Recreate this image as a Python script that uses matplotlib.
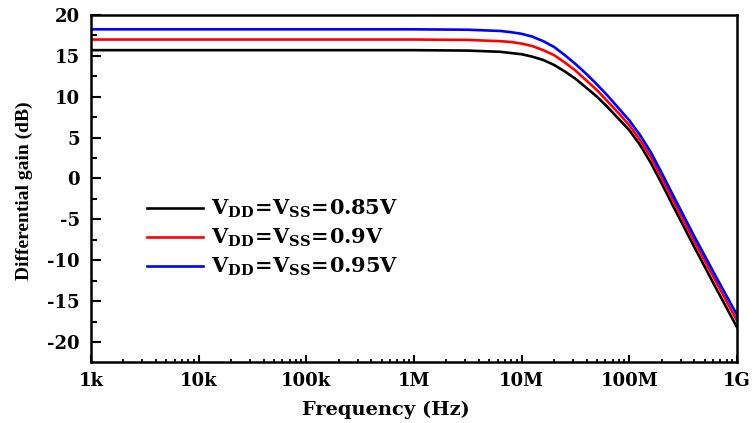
import numpy as np
import matplotlib
matplotlib.use("Agg")
import matplotlib.pyplot as plt
from matplotlib.ticker import FixedLocator, FixedFormatter, LogLocator, NullFormatter, MultipleLocator

plt.rcParams['mathtext.fontset'] = 'custom'
plt.rcParams['mathtext.bf'] = 'DejaVu Serif:bold'
plt.rcParams['mathtext.rm'] = 'DejaVu Serif:bold'
plt.rcParams['axes.unicode_minus'] = False

# log10(frequency) sample points
log_f = [3.0, 4.0, 5.0, 6.0, 6.5, 6.8, 6.9, 7.0, 7.1, 7.2, 7.3, 7.4, 7.5, 7.6,
         7.7, 7.8, 7.9, 8.0, 8.1, 8.2, 8.3, 8.4, 8.6, 8.8, 9.0]

gain_085 = [15.7, 15.7, 15.7, 15.7, 15.65, 15.5, 15.35, 15.2, 14.9, 14.5, 13.9, 13.1, 12.2, 11.1,
            10.0, 8.7, 7.3, 5.9, 4.1, 1.9, -0.6, -3.2, -8.3, -13.3, -18.2]
gain_090 = [17.0, 17.0, 17.0, 17.0, 16.95, 16.8, 16.7, 16.5, 16.2, 15.7, 15.1, 14.2, 13.2, 12.0,
            10.8, 9.4, 8.0, 6.5, 4.7, 2.6, 0.1, -2.5, -7.6, -12.5, -17.4]
gain_095 = [18.25, 18.25, 18.25, 18.25, 18.2, 18.05, 17.9, 17.7, 17.35, 16.8, 16.1, 15.1, 14.0, 12.8,
            11.5, 10.1, 8.6, 7.1, 5.3, 3.2, 0.7, -1.9, -7.0, -11.9, -16.7]

labels = [r'$\mathbf{V_{DD}\!=\!V_{SS}\!=\!0.85V}$',
          r'$\mathbf{V_{DD}\!=\!V_{SS}\!=\!0.9V}$',
          r'$\mathbf{V_{DD}\!=\!V_{SS}\!=\!0.95V}$']
colors = ['#000000', '#ff0000', '#0000ff']

freq_ticks = [1e3, 1e4, 1e5, 1e6, 1e7, 1e8, 1e9]
freq_labels = ['1k', '10k', '100k', '1M', '10M', '100M', '1G']

freq = 10 ** np.array(log_f)

fig = plt.figure(figsize=(7.54, 4.23), dpi=100)
ax = fig.add_axes([0.1207, 0.1442, 0.8568, 0.8203])

for g, lab, c in zip([gain_085, gain_090, gain_095], labels, colors):
    ax.plot(freq, g, color=c, lw=1.9, label=lab)

ax.set_xscale('log')
ax.set_xlim(1e3, 1e9)
ax.set_ylim(-22.45, 20)

tick_font = dict(family='DejaVu Serif', weight='bold', size=13)
ax.xaxis.set_major_locator(FixedLocator(freq_ticks))
ax.xaxis.set_major_formatter(FixedFormatter(freq_labels))
ax.xaxis.set_minor_locator(LogLocator(base=10, subs=np.arange(2, 10)))
ax.xaxis.set_minor_formatter(NullFormatter())
ax.yaxis.set_major_locator(MultipleLocator(5))
ax.yaxis.set_minor_locator(MultipleLocator(2.5))

ax.tick_params(axis='y', which='major', direction='in', length=7, width=1.5, pad=8)
ax.tick_params(axis='y', which='minor', direction='in', length=4, width=1.5)
ax.tick_params(axis='x', which='major', direction='in', length=5, width=1.5, pad=7)
ax.tick_params(axis='x', which='minor', direction='in', length=2.5, width=1.3)
for lab in ax.get_xticklabels() + ax.get_yticklabels():
    lab.set_fontproperties(matplotlib.font_manager.FontProperties(**tick_font))

for s in ax.spines.values():
    s.set_linewidth(1.8)

ax.set_xlabel('Frequency (Hz)', family='DejaVu Serif', weight='bold', size=14, va='center')
ax.xaxis.set_label_coords(0.457, -0.138)
ax.set_ylabel('Differential gain (dB)', family='Liberation Serif', weight='bold', size=14)
ax.yaxis.set_label_coords(-0.09, 0.493)

ax.legend(loc='center left', bbox_to_anchor=(0.087, 0.357), frameon=False,
          borderpad=0, borderaxespad=0, handlelength=2.7, handletextpad=0.35,
          labelspacing=0.33, prop=dict(family='DejaVu Serif', weight='bold', size=15))

fig.savefig('out.png', dpi=100)
